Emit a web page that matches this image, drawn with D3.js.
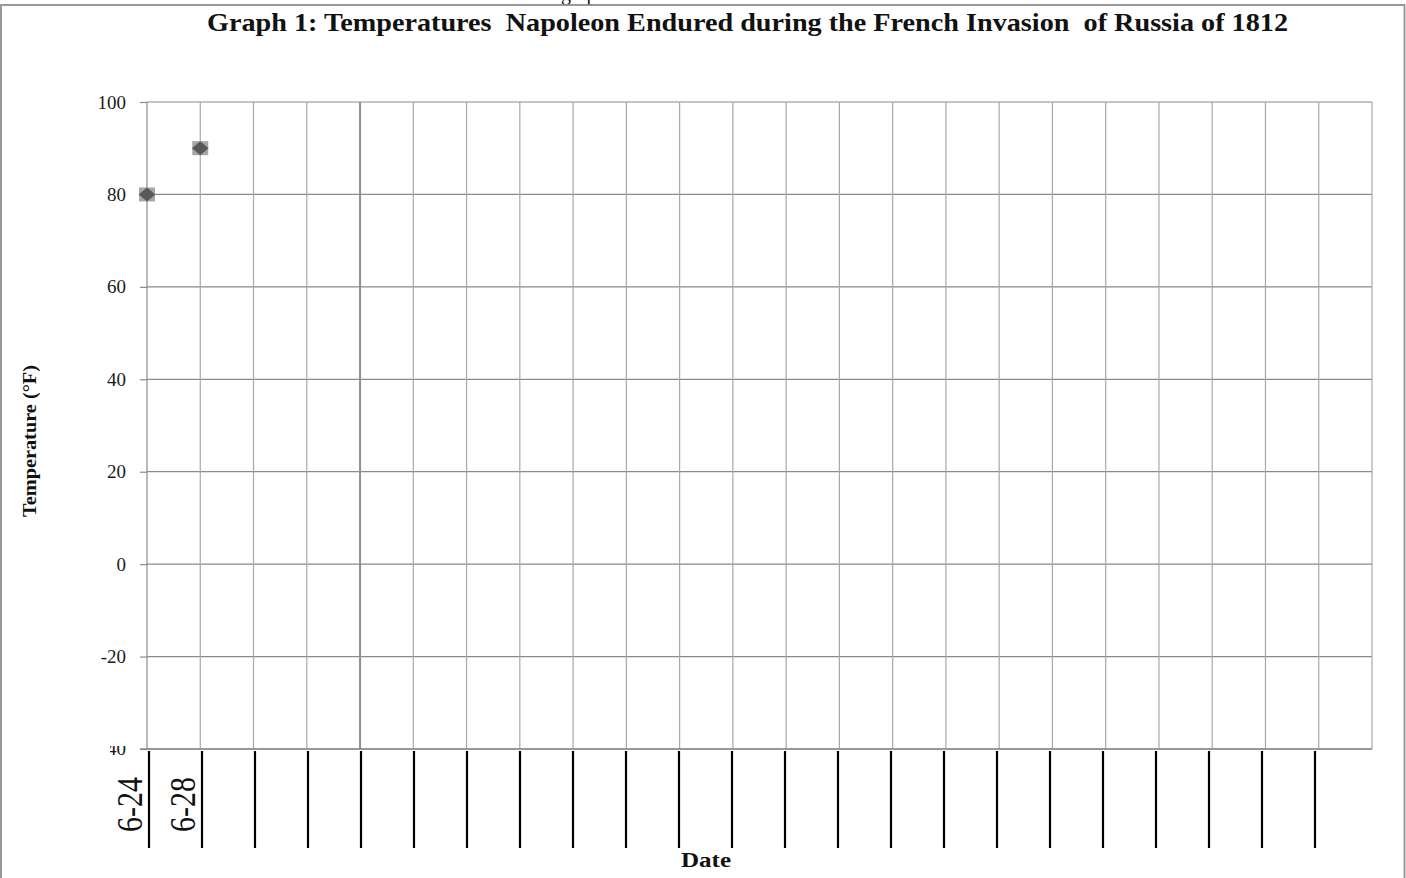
<!DOCTYPE html>
<html>
<head>
<meta charset="utf-8">
<script src="https://cdn.jsdelivr.net/npm/d3@7/dist/d3.min.js"></script>
<style>
  body { margin: 0; background: #fff; }
  svg { display: block; }
  text { font-family: "Liberation Serif", "Times New Roman", serif; }
</style>
</head>
<body>
<svg id="chart" width="1406" height="878"></svg>
<script>
// ---- data ----
const categories = ["6-24", "6-28", "", "", "", "", "", "", "", "", "", "", "",
                    "", "", "", "", "", "", "", "", "", "", ""];
const temperatures = [80, 90, null, null, null, null, null, null, null, null, null, null, null,
                      null, null, null, null, null, null, null, null, null, null, null];
const yTicks = [-40, -20, 0, 20, 40, 60, 80, 100];
const tableColumns = d3.range(23);   // ruled columns of the date table below the chart
const titleText = "Graph 1: Temperatures  Napoleon Endured during the French Invasion  of Russia of 1812";
const yTitle = "Temperature (°F)";
const xTitle = "Date";
const clippedHeader = "graph";

// ---- layout ----
const svg = d3.select("#chart");
const pL = 147, pR = 1372, pT = 102, pB = 749;

const x = d3.scalePoint().domain(d3.range(categories.length)).range([pL, pR]);
const y = d3.scaleLinear().domain([-40, 100]).range([pB, pT]);
const xTable = d3.scalePoint().domain(tableColumns).range([149, 1315]);

// clipped header text above frame
svg.append("text").attr("x", 561).attr("y", 0).attr("font-size", 20)
  .attr("fill", "#111").text(clippedHeader);

// outer frame
svg.append("rect").attr("x", 1).attr("y", 5).attr("width", 1403.5).attr("height", 890)
  .attr("fill", "none").attr("stroke", "#8f8f8f").attr("stroke-width", 1.8);

// title
svg.append("text").attr("x", 207).attr("y", 31)
  .attr("font-size", 25).attr("font-weight", "bold").attr("fill", "#111")
  .style("white-space", "pre")
  .attr("textLength", 1081).attr("lengthAdjust", "spacingAndGlyphs")
  .text(titleText);

// horizontal gridlines
svg.append("g").selectAll("line").data(yTicks).join("line")
  .attr("x1", pL).attr("x2", pR)
  .attr("y1", d => y(d)).attr("y2", d => y(d))
  .attr("stroke", "#8a8a8a").attr("stroke-width", 1.2);

// vertical gridlines
svg.append("g").selectAll("line").data(d3.range(categories.length)).join("line")
  .attr("x1", d => x(d)).attr("x2", d => x(d))
  .attr("y1", pT).attr("y2", pB)
  .attr("stroke", (d, i) => i === 0 ? "#8a8a8a" : (i === 4 ? "#8f8f8f" : "#a8a8a8"))
  .attr("stroke-width", (d, i) => i === 4 ? 2 : 1.2);

// clip for the partially hidden bottom tick label
svg.append("clipPath").attr("id", "lowClip").append("rect")
  .attr("x", 110).attr("y", y(-40) - 3).attr("width", 30).attr("height", 20);

// y axis
const yAxis = d3.axisLeft(y).tickValues(yTicks).tickSize(7).tickPadding(14);
const gy = svg.append("g").attr("transform", `translate(${pL},0)`).call(yAxis);
gy.select(".domain").remove();
gy.selectAll(".tick line").attr("stroke", "#8a8a8a").attr("stroke-width", 1.2);
gy.selectAll(".tick text")
  .attr("font-family", "'Liberation Serif', 'Times New Roman', serif")
  .attr("font-size", 19).attr("fill", "#1a1a1a")
  .text(d => d3.format("d")(d).replace("−", "-"));

// bottom label: redrawn in absolute coords so the clip applies
gy.selectAll(".tick").filter(d => d === -40).each(function() {
  const t = d3.select(this).select("text");
  const txt = t.text();
  t.remove();
  svg.append("text")
    .attr("clip-path", "url(#lowClip)")
    .attr("x", pL - 21).attr("y", y(-40)).attr("dy", "0.32em")
    .attr("text-anchor", "end").attr("font-size", 19).attr("fill", "#1a1a1a")
    .text(txt);
});

// x axis baseline extends into tick area
svg.append("line").attr("x1", pL - 7).attr("x2", pR)
  .attr("y1", y(-40)).attr("y2", y(-40))
  .attr("stroke", "#8a8a8a").attr("stroke-width", 1.4);

// table column rules below
svg.append("g").selectAll("line").data(tableColumns).join("line")
  .attr("x1", d => xTable(d)).attr("x2", d => xTable(d))
  .attr("y1", 751).attr("y2", 848)
  .attr("stroke", "#000").attr("stroke-width", 2.2);

// category labels (rotated)
svg.append("g").selectAll("text").data(categories.map((c, i) => ({c, i})).filter(d => d.c))
  .join("text")
  .attr("transform", d => `translate(${x(d.i) - 5},777) rotate(-90) scale(1,1.22)`)
  .attr("text-anchor", "end")
  .attr("font-size", 30).attr("fill", "#111")
  .text(d => d.c);

// axis titles
svg.append("text")
  .attr("transform", `translate(36,441) rotate(-90)`)
  .attr("text-anchor", "middle").attr("font-size", 19).attr("font-weight", "bold")
  .attr("fill", "#111").attr("textLength", 152).attr("lengthAdjust", "spacingAndGlyphs")
  .text(yTitle);

svg.append("text").attr("x", 706).attr("y", 867)
  .attr("text-anchor", "middle").attr("font-size", 21).attr("font-weight", "bold")
  .attr("fill", "#111").attr("textLength", 50).attr("lengthAdjust", "spacingAndGlyphs")
  .text(xTitle);

// markers
const pts = temperatures.map((v, i) => ({v, i})).filter(d => d.v !== null);
const mk = svg.append("g").selectAll("g").data(pts).join("g")
  .attr("transform", d => `translate(${x(d.i)},${y(d.v)})`);
mk.append("rect").attr("x", -8).attr("y", -7).attr("width", 16).attr("height", 14)
  .attr("fill", "#a6a6a6");
mk.append("path").attr("d", d3.symbol(d3.symbolDiamond2, 175)())
  .attr("transform", "scale(1,0.85)")
  .attr("fill", "#595959");
</script>
</body>
</html>
